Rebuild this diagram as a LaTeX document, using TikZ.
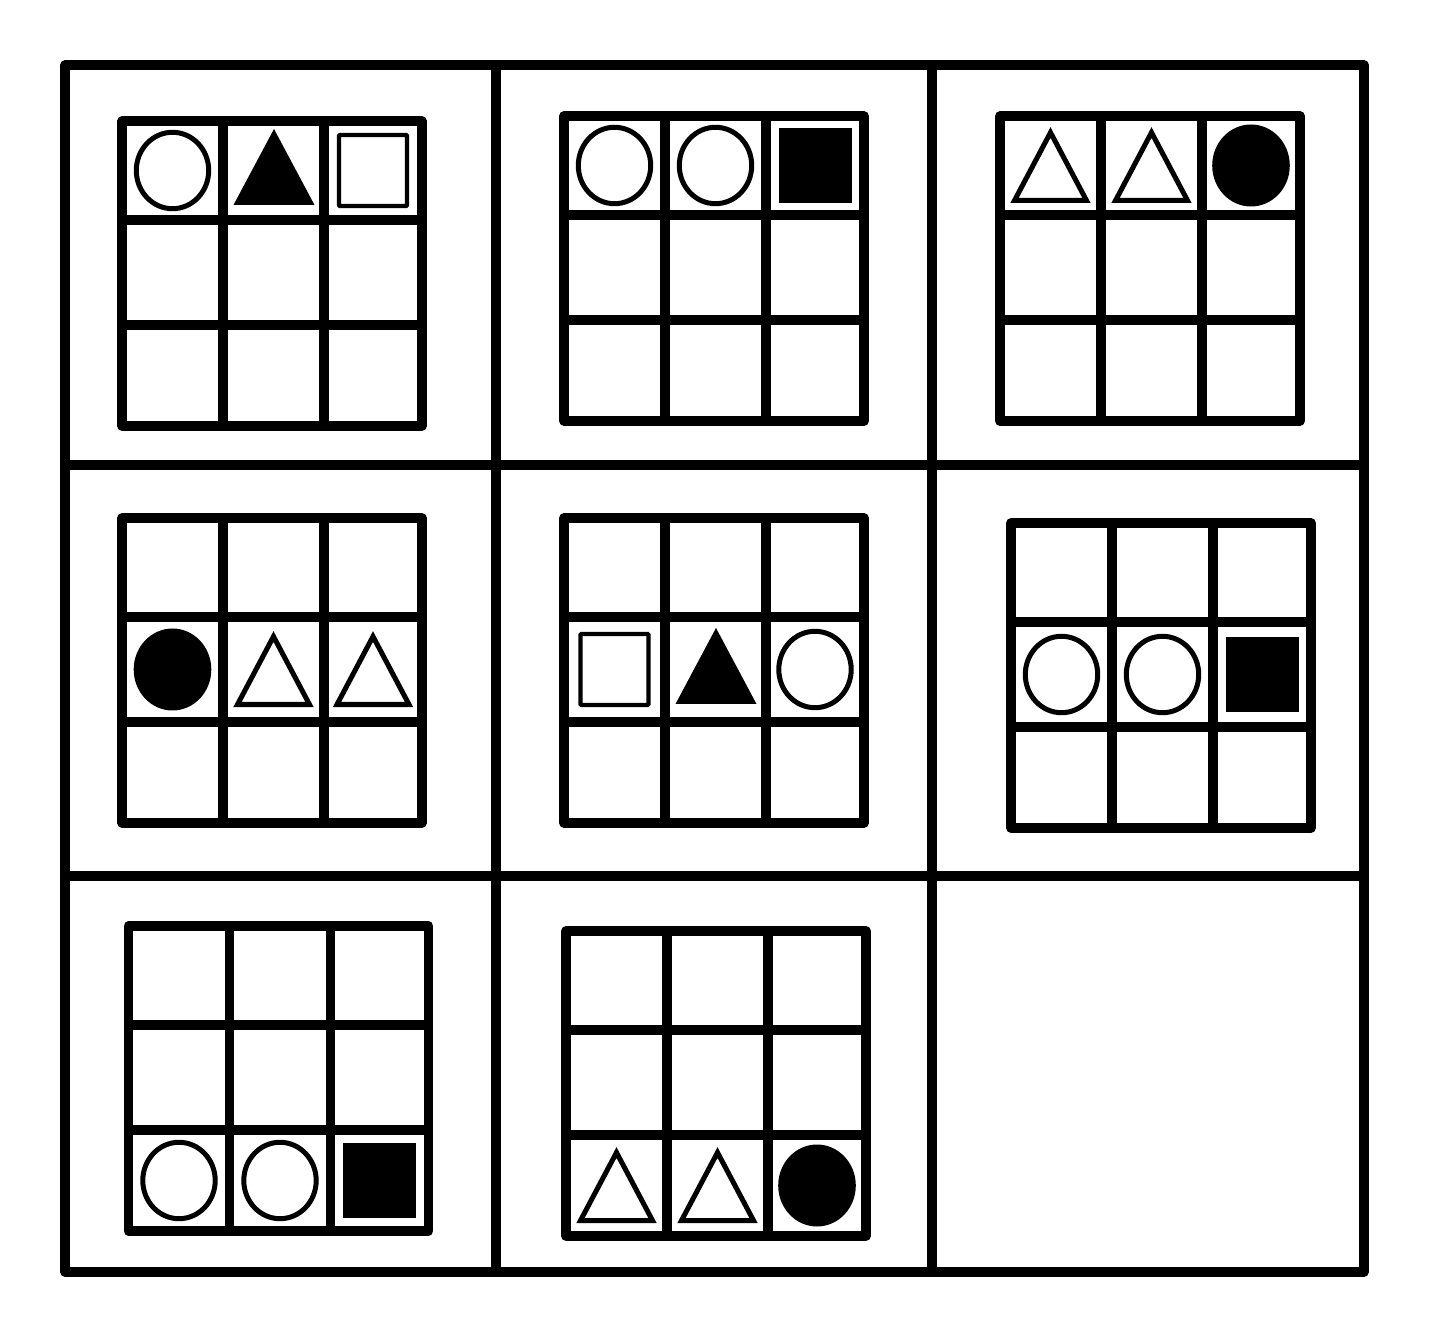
\documentclass[tikz,border=0pt]{standalone}
\usetikzlibrary{calc}

\begin{document}
\begin{tikzpicture}[x=0.02cm, y=-0.02cm,
  outer/.style={line width=5.4pt, line cap=round, line join=round},
  board/.style={line width=5.4pt, line join=round},
  ring/.pic={\draw[line width=2.85pt] (0,0) ellipse [x radius=36.2, y radius=38.2];},
  disc/.pic={\fill (0,0) ellipse [x radius=38.8, y radius=41];},
  peak/.pic={\draw[line width=2.85pt, miter limit=10] (0,-33) -- (36,35) -- (-36,35) -- cycle;},
  wedge/.pic={\fill (0.5,-41.5) -- (41,34.5) -- (-40,34.5) -- cycle;},
  hollow/.pic={\draw[line width=2.5pt, rounded corners=0.5pt] (-34,-35.5) rectangle (34,35.5);},
  block/.pic={\fill (-36.5,-37.5) rectangle (36.5,37.5);},
  grid3/.pic={\draw[board] (0,0) rectangle (300,305)
    (101,0) -- (101,305) (202,0) -- (202,305)
    (0,99) -- (300,99) (0,204) -- (300,204);}]
\useasboundingbox (0,0) rectangle (1430,1337);

% outer 3x3 frame
\draw[outer] (65,65) rectangle (1364,1272);
\draw[outer] (496,65) -- (496,1272) (932,65) -- (932,1272)
  (65,465) -- (1364,465) (65,876) -- (1364,876);

% row 1
\begin{scope}[shift={(122,121)}]
  \pic at (0,0) {grid3};
  \pic at (50.5,49.5) {ring};
  \pic at (151.5,49.5) {wedge};
  \pic at (251,49.5) {hollow};
\end{scope}
\begin{scope}[shift={(564,116)}]
  \pic at (0,0) {grid3};
  \pic at (50.5,49.5) {ring};
  \pic at (151.5,49.5) {ring};
  \pic at (251,49.5) {block};
\end{scope}
\begin{scope}[shift={(1000,116)}]
  \pic at (0,0) {grid3};
  \pic at (50.5,49.5) {peak};
  \pic at (151.5,49.5) {peak};
  \pic at (251,49.5) {disc};
\end{scope}

% row 2
\begin{scope}[shift={(122,518)}]
  \pic at (0,0) {grid3};
  \pic at (50.5,151.5) {disc};
  \pic at (151.5,151.5) {peak};
  \pic at (251,151.5) {peak};
\end{scope}
\begin{scope}[shift={(564,518)}]
  \pic at (0,0) {grid3};
  \pic at (50.5,151.5) {hollow};
  \pic at (151.5,151.5) {wedge};
  \pic at (251,151.5) {ring};
\end{scope}
\begin{scope}[shift={(1011,523)}]
  \pic at (0,0) {grid3};
  \pic at (50.5,151.5) {ring};
  \pic at (151.5,151.5) {ring};
  \pic at (251,151.5) {block};
\end{scope}

% row 3 (last cell left empty)
\begin{scope}[shift={(128.5,926)}]
  \pic at (0,0) {grid3};
  \pic at (50.5,254.5) {ring};
  \pic at (151.5,254.5) {ring};
  \pic at (251,254.5) {block};
\end{scope}
\begin{scope}[shift={(566,931)}]
  \pic at (0,0) {grid3};
  \pic at (50.5,254.5) {peak};
  \pic at (151.5,254.5) {peak};
  \pic at (251,254.5) {disc};
\end{scope}
\end{tikzpicture}
\end{document}
